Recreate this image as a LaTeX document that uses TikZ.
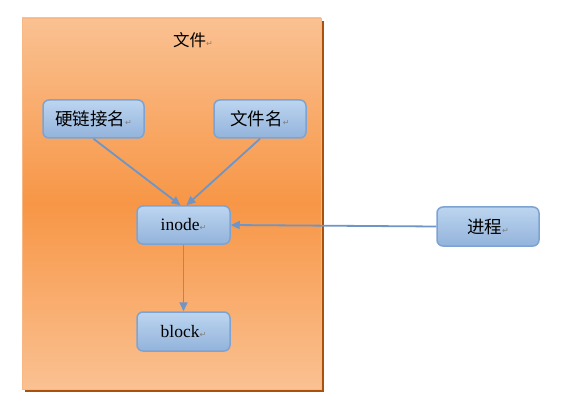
\documentclass[tikz,border=0pt]{standalone}
\usepackage{fontspec}
\setmainfont{Liberation Serif}
\newfontfamily\cjk{Noto Sans CJK SC}
\newfontfamily\symf{DejaVu Sans}
\usetikzlibrary{arrows.meta}
\definecolor{boxtop}{HTML}{BCD5F0}
\definecolor{boxbot}{HTML}{93B3DB}
\definecolor{boxline}{HTML}{7DA3D2}
\definecolor{arrowc}{HTML}{6E95C6}
\definecolor{orlight}{HTML}{FAC192}
\definecolor{ormid}{HTML}{F79646}
\definecolor{orshadow}{HTML}{A9520E}
\newcommand\pmk{{\symf\fontsize{8}{8}\selectfont\textcolor{gray}{↵}}}
\tikzset{
  blockbox/.style={rounded corners=6pt, draw=boxline, line width=1.5pt,
    top color=boxtop, bottom color=boxbot, font=\fontsize{17.5}{19}\selectfont,
    inner sep=0pt},
  conn/.style={draw=arrowc, line width=1.8pt, -{Triangle[width=8pt,length=9pt]}}
}
\begin{document}
\begin{tikzpicture}[x=1pt,y=-1pt]
\useasboundingbox (0,0) rectangle (568,409);
% file container
\fill[orshadow] (25,21) rectangle (324,391.5);
\shade[top color=orlight, bottom color=orlight, middle color=ormid] (22,18) rectangle (321,389);
\draw[color=orlight!80!ormid, line width=0.6pt] (22,18) rectangle (321,389);
\node[font=\cjk\fontsize{16.5}{18}\selectfont] (title) at (193,40) {文件\pmk};
% boxes
\node[blockbox, minimum width=101pt, minimum height=38pt] (hl) at (93.5,119) {\cjk 硬链接名\pmk};
\node[blockbox, minimum width=92pt, minimum height=38pt] (fn) at (260,119) {\cjk 文件名\pmk};
\node[blockbox, minimum width=93pt, minimum height=38pt] (inode) at (183.5,225) {inode\pmk};
\node[blockbox, minimum width=93pt, minimum height=39pt] (block) at (183.5,331.5) {block\pmk};
\node[blockbox, minimum width=102pt, minimum height=39pt] (proc) at (488,226.5) {\cjk 进程\pmk};
% connectors
\draw[conn] (hl.south) -- ([xshift=-3pt]inode.north);
\draw[conn] (fn.south) -- ([xshift=3pt]inode.north);
\draw[conn] (inode.south) -- (block.north);
\draw[conn] (proc.west) -- (inode.east);
\end{tikzpicture}
\end{document}
